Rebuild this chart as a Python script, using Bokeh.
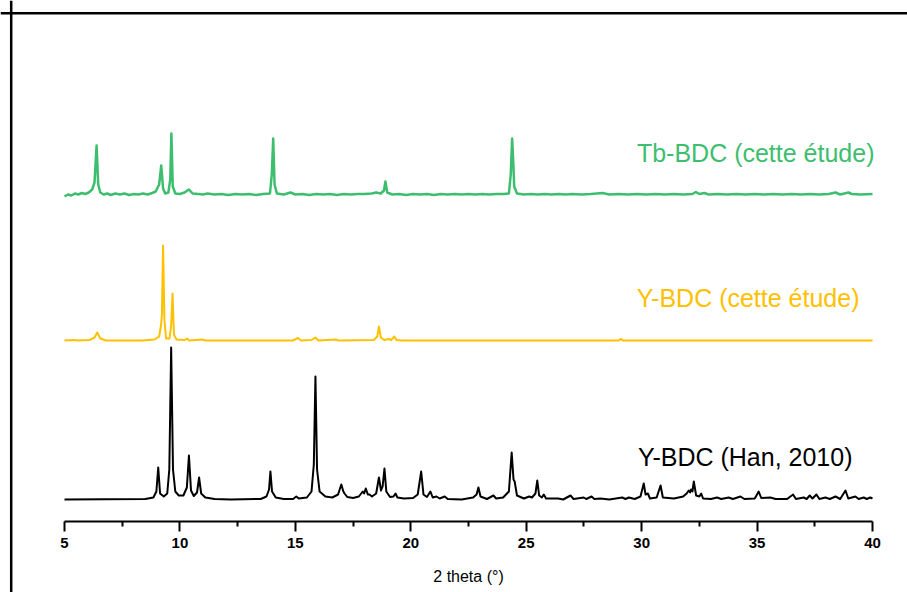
from bokeh.plotting import figure
from bokeh.models import Range1d, FixedTicker, Span, Label, LinearAxis
from bokeh.embed import file_html
from bokeh.resources import INLINE

# ---------------- data ----------------
# Y-BDC (Han, 2010) : 2theta, relative intensity
han_2theta = [5.0, 8.5, 8.85, 8.98, 9.06, 9.14, 9.3, 9.45, 9.54, 9.62, 9.70, 9.8, 9.95, 10.15, 10.3,
              10.39, 10.48, 10.6, 10.74, 10.83, 10.92, 11.1, 11.5, 12.2, 13.5, 13.75, 13.86, 13.92,
              13.99, 14.15, 14.5, 14.9, 15.04, 15.15, 15.5, 15.7, 15.80, 15.87, 15.94, 16.05, 16.3,
              16.6, 16.85, 16.99, 17.08, 17.13, 17.25, 17.5, 17.75, 17.92, 17.98, 18.05, 18.14, 18.21,
              18.32, 18.5, 18.62, 18.71, 18.78, 18.86, 18.94, 19.1, 19.25, 19.34, 19.42, 19.7, 20.1,
              20.3, 20.45, 20.55, 20.7, 20.85, 20.95, 21.11, 21.25, 21.47, 21.6, 22.2, 22.7, 22.85,
              22.93, 23.02, 23.3, 23.58, 23.7, 24.0, 24.25, 24.37, 24.45, 24.5, 24.6, 24.9, 25.13,
              25.25, 25.4, 25.48, 25.56, 25.68, 25.76, 25.86, 26.38, 26.6, 26.92, 27.05, 27.49, 27.6,
              27.83, 27.95, 28.22, 28.6, 29.16, 29.3, 29.45, 29.7, 29.95, 30.09, 30.17, 30.27, 30.36,
              30.65, 30.82, 30.92, 31.4, 31.8, 31.95, 32.04, 32.1, 32.14, 32.2, 32.26, 32.36, 32.5,
              32.58, 32.66, 33.0, 33.27, 33.45, 33.77, 33.95, 34.28, 34.45, 34.9, 35.07, 35.18, 35.58,
              35.8, 36.3, 36.56, 36.68, 37.02, 37.15, 37.28, 37.4, 37.57, 37.7, 37.96, 38.15, 38.40,
              38.6, 38.83, 38.95, 39.26, 39.4, 39.62, 39.75, 39.9, 40.0]
han_int = [0, 0.5, 2, 8, 32, 6, 3, 6, 30, 152, 30, 8, 4, 4, 12,
           44, 9, 3.5, 7, 22, 6, 2, 0.5, 0, 0.5, 3, 10, 28,
           8, 2, 0.5, 0.5, 3, 1, 2, 8, 35, 123, 30, 8, 3,
           2, 5, 15, 8, 6, 2.5, 1.5, 3, 8, 6, 11, 5, 5,
           3, 6, 22, 9, 13, 31, 8, 2.5, 3, 6, 2, 1, 1.5,
           5, 28, 5, 2.5, 8, 2, 3, 1, 3, 0.5, 0, 2, 5,
           12, 3, 0.5, 4, 1, 2, 8, 47, 20, 18, 4, 1, 3,
           2, 6, 19, 4, 2, 5, 1, 1, 0, 4, 0.5, 2, 0.5,
           3, 0.5, 1, 0, 2, 0.5, 2, 0.5, 3, 16, 5, 6, 1,
           2, 14, 2, 1, 3, 6, 9, 7, 10, 8, 18, 4, 3,
           6, 1, 0.5, 2, 0.5, 2, 0.5, 3, 0.5, 1, 8, 1.5, 2,
           0.5, 0.5, 5, 0.5, 2, 0.5, 4, 1, 5, 0.5, 2, 0.5, 3,
           0.5, 9, 1, 3, 0.5, 2, 0.5, 2, 1]

# Y-BDC (cette étude)
ybdc_2theta = [5.0, 5.4, 5.6, 6.1, 6.3, 6.42, 6.55, 6.8, 8.4, 8.9, 9.1, 9.18, 9.22, 9.27, 9.33,
               9.4, 9.55, 9.62, 9.68, 9.74, 9.85, 10.2, 10.31, 10.4, 10.96, 11.1, 14.9, 15.11,
               15.25, 15.7, 15.87, 16.0, 16.74, 16.9, 18.4, 18.55, 18.62, 18.7, 18.85, 19.05,
               19.15, 19.29, 19.38, 19.6, 29.0, 29.08, 29.2, 40.0]
ybdc_int = [0, 0.5, 0, 0.5, 3, 8, 2, 0, 0, 1, 4, 15, 26, 95, 20,
            2, 2, 15, 47, 6, 1, 0.5, 2, 0, 1, 0, 0, 2.5,
            0, 0.5, 3, 0, 1, 0, 0.5, 4, 14, 3, 0.5, 1.5,
            0.5, 4, 0.5, 0, 0, 1.5, 0, 0]

# Tb-BDC (cette étude)
tb_2theta = [5.0, 5.15, 5.3, 5.45, 5.6, 5.75, 5.9, 6.05, 6.2, 6.3, 6.39, 6.46, 6.55, 6.7, 6.85,
             7.0, 7.2, 7.4, 7.6, 7.8, 8.0, 8.2, 8.4, 8.6, 8.8, 8.95, 9.1, 9.19, 9.27, 9.36, 9.5,
             9.58, 9.63, 9.69, 9.8, 10.0, 10.2, 10.39, 10.55, 10.8, 11.0, 11.2, 11.5, 11.8, 12.1,
             12.4, 12.7, 13.0, 13.3, 13.6, 13.9, 13.98, 14.04, 14.1, 14.2, 14.5, 14.79, 15.0,
             15.3, 15.6, 15.9, 16.2, 16.5, 16.8, 17.1, 17.4, 17.7, 18.0, 18.3, 18.5, 18.7, 18.84,
             18.9, 18.98, 19.2, 19.5, 19.8, 20.1, 20.4, 20.7, 21.0, 21.3, 21.6, 21.9, 22.2, 22.5,
             22.8, 23.1, 23.4, 23.7, 24.0, 24.25, 24.33, 24.39, 24.44, 24.48, 24.6, 24.9, 25.2,
             25.5, 25.8, 26.1, 26.4, 26.7, 27.0, 27.4, 27.8, 28.31, 28.6, 29.0, 29.4, 29.8, 30.2,
             30.6, 31.0, 31.4, 31.8, 32.2, 32.35, 32.5, 32.72, 32.9, 33.3, 33.7, 34.1, 34.5, 34.9,
             35.3, 35.7, 36.1, 36.5, 36.9, 37.3, 37.7, 38.1, 38.40, 38.6, 38.96, 39.1, 39.5, 40.0]
tb_int = [-2, 0, -1, 1, 0, 1.5, 0.5, 2, 5, 12, 49, 10, 2, 0, 1,
          -0.5, 1, 0, 1, -0.5, 0.5, 0, 1, 0, 1.5, 3, 10, 29, 6, 1, 2,
          15, 61, 8, 1, 0.5, 2, 5, 1, 0.5, 0, 1, 0, 0.5, -0.5,
          0.5, 0, 0.5, -0.5, 0.5, 1, 20, 56, 10, 1, 0, 2, 0,
          0.5, -0.5, 0.5, 0, 0.5, -0.5, 0.5, 0, 0.5, 0.5, 1, 2, 1, 4,
          13, 2, 0, 0.5, -0.5, 0.5, 0, 0.5, -0.5, 0.5, 0, 0.5, 0, 0.5,
          0, 0.5, 0, 0.5, 0.5, 1, 20, 56, 32, 8, 1, 0, 0.5,
          0, 0.5, 0, 0.5, 0, 0.5, 0, 0.5, 1.5, 0, 0.5, 0, 0.5, 0,
          0.5, 0, 0.5, 0, 0.5, 2.5, 0.5, 1.5, 0, 0.5, 0, 0.5, 0, 0.5,
          0, 0.5, 0, 0.5, 0, 0.5, 0, 0.5, 2, 0, 2, 0.5, 0, 0.5]

series_names = ["Y-BDC (Han, 2010)", "Y-BDC (cette étude)", "Tb-BDC (cette étude)"]
x_ticks = [5, 10, 15, 20, 25, 30, 35, 40]
x_minor_ticks = [7.5, 12.5, 17.5, 22.5, 27.5, 32.5, 37.5]

# ---------------- layout constants (canvas pixel coordinates) ----------------
W, H = 907, 592
PX5, PX40 = 64, 872               # pixel positions of 2theta = 5 and 40
S = (PX40 - PX5) / 35.0
X0 = 5 - PX5 / S
X1 = 40 + (W - PX40) / S


def yy(py):
    # y in pixel-like units, 0 at canvas bottom
    return H - py


def xx(px):
    return X0 + px / S


offsets = [yy(499), yy(340), yy(194)]
colors = ["#000000", "#FFC000", "#3DBE6E"]
widths = [2, 2, 2.5]

p = figure(width=W, height=H, output_backend="svg", toolbar_location=None,
           x_range=Range1d(X0, X1), y_range=Range1d(0, H),
           x_axis_location=None, y_axis_location=None,
           min_border=0, min_border_left=0, min_border_right=0,
           min_border_top=0, min_border_bottom=0)
p.outline_line_color = None
p.grid.visible = False
p.background_fill_color = "white"
p.border_fill_color = "white"

for xs, ys, off, c, w in zip([han_2theta, ybdc_2theta, tb_2theta],
                             [han_int, ybdc_int, tb_int], offsets, colors, widths):
    p.line(xs, [v + off for v in ys], line_color=c, line_width=w, line_join="round")

ax = LinearAxis(fixed_location=yy(521), bounds=(5, 40))
ax.ticker = FixedTicker(ticks=x_ticks, minor_ticks=x_minor_ticks)
ax.axis_line_width = 2
ax.axis_line_color = "black"
ax.major_tick_line_width = 2
ax.major_tick_line_color = "black"
ax.minor_tick_line_width = 2
ax.minor_tick_line_color = "black"
ax.major_tick_out = 10
ax.major_tick_in = 0
ax.minor_tick_out = 5
ax.minor_tick_in = 0
ax.major_label_text_font = "Liberation Sans"
ax.major_label_text_font_style = "bold"
ax.major_label_text_font_size = "15px"
ax.major_label_text_color = "black"
ax.major_label_standoff = 6
ax.axis_label = "2 theta (°)"
ax.axis_label_text_font = "Liberation Sans"
ax.axis_label_text_font_style = "normal"
ax.axis_label_text_font_size = "16px"
ax.axis_label_text_color = "black"
ax.axis_label_standoff = 17
p.add_layout(ax, "below")

# frame border (left and top only)
p.add_layout(Span(location=xx(10.7), dimension="height", line_color="black", line_width=2.5))
p.add_layout(Span(location=yy(12.8), dimension="width", line_color="black", line_width=2.5))

label_pos = [(xx(852), yy(456)), (xx(859), yy(297)), (xx(874), yy(152))]
for name, (lx, ly), c in zip(series_names, label_pos, colors):
    p.add_layout(Label(x=lx, y=ly, text=name, text_align="right", text_baseline="middle",
                       text_font="Liberation Sans", text_font_size="25px", text_color=c))

open("out.html", "w").write(file_html(p, INLINE))
